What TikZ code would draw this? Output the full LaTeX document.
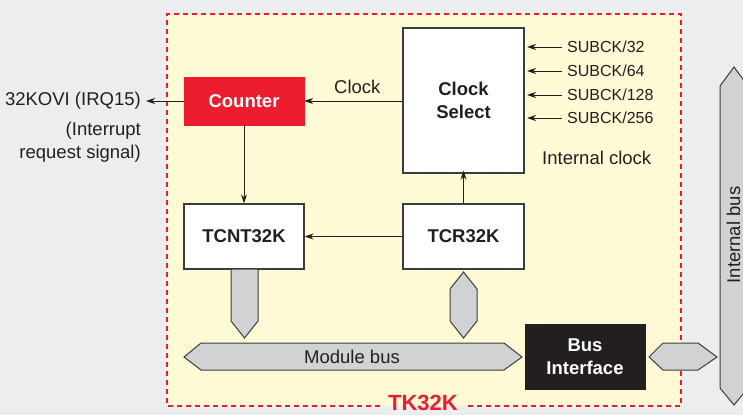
\documentclass[tikz,border=0pt]{standalone}
\usepackage{fontspec}
\setmainfont{Liberation Sans}
\usetikzlibrary{arrows.meta}
\definecolor{bgc}{RGB}{236,237,239}
\definecolor{yel}{RGB}{255,250,214}
\definecolor{redc}{RGB}{237,28,46}
\definecolor{ink}{RGB}{35,31,32}
\definecolor{edge}{RGB}{60,60,60}
\definecolor{busc}{RGB}{209,210,212}
\tikzset{
  every node/.style={text=ink, font=\fontsize{18.5}{22.5}\selectfont, inner sep=0pt},
  blockbox/.style={draw=edge, line width=1.2pt, fill=white, font=\fontsize{18.5}{23}\selectfont\bfseries, align=center},
  sig/.style={draw=ink, line width=0.9pt, -{Stealth[length=9pt,width=6pt]}},
  busshape/.style={draw=edge, line width=1pt, fill=busc},
  subck/.style={font=\fontsize{16}{19}\selectfont, anchor=west}
}
\begin{document}
\begin{tikzpicture}[x=1pt,y=-1pt]
\useasboundingbox (0,0) rectangle (743,415);
\fill[bgc] (0,0) rectangle (743,415);
% TK32K block area
\fill[yel] (167,14) rectangle (681,406);
\draw[redc, line width=1.1pt, dash pattern=on 5pt off 4pt] (380,406) -- (167,406) -- (167,14) -- (681,14) -- (681,406) -- (467,406);
\node[text=redc, font=\fontsize{22}{26}\selectfont\bfseries] (tk) at (423,403) {TK32K};

% boxes
\node[draw=redc, fill=redc, minimum width=120pt, minimum height=48pt, font=\fontsize{18.5}{23}\selectfont\bfseries, text=white] (counter) at (244,101) {Counter};
\node[blockbox, minimum width=121pt, minimum height=145pt] (cs) at (463.5,100.5) {Clock\\Select};
\node[blockbox, minimum width=120pt, minimum height=65pt] (tcnt) at (244,236.5) {TCNT32K};
\node[blockbox, minimum width=121pt, minimum height=65pt] (tcr) at (463.5,236.5) {TCR32K};
\node[fill=ink, draw=ink, minimum width=120pt, minimum height=65pt, font=\fontsize{18.5}{22.5}\selectfont\bfseries, text=white, align=center] (bi) at (585,356.5) {Bus\\Interface};

% left labels
\coordinate (irq) at (146,101);
\node[anchor=east] (kovi) at (141,101) {32KOVI (IRQ15)};
\node[anchor=north east, align=right] (irqtxt) at (141,122) {(Interrupt\\request signal)};

% signals
\draw[sig] (counter.west) -- (irq);
\draw[sig] (cs.west |- counter) -- node[above=7pt, xshift=4pt] (clk) {Clock} (counter.east);
\draw[sig] (counter.south) -- (tcnt.north);
\draw[sig] (tcr.north) -- ([yshift=3pt]cs.south);
\draw[sig] (tcr.west) -- (tcnt.east);

% SUBCK inputs
\foreach \yy/\lab/\nm in {47/32/a, 71/64/b, 95/128/c, 118/256/d}{
  \coordinate (s\nm) at (562,\yy);
  \node[subck] (t\nm) at (567,\yy) {SUBCK/\lab};
  \draw[sig] (s\nm) -- (527,\yy);
}
\node[anchor=west] (intclk) at (542,158) {Internal clock};

% buses
\draw[busshape] (231,269) -- (258,269) -- (258,321) -- (244.5,338) -- (231,321) -- cycle;
\draw[busshape] (463.5,272) -- (477,289) -- (477,321) -- (463.5,338) -- (450,321) -- (450,289) -- cycle;
\draw[busshape] (184,357) -- (201,343) -- (504,343) -- (522,357) -- (504,370) -- (201,370) -- cycle;
\node (mbus) at (352,357) {Module bus};
\draw[busshape] (649,357) -- (663,343) -- (698,343) -- (717,357) -- (698,370) -- (663,370) -- cycle;
\draw[busshape] (734,67) -- (748,86) -- (748,388) -- (734,405) -- (720,388) -- (720,86) -- cycle;
\node[rotate=90] (ibus) at (733.5,235) {Internal bus};
\end{tikzpicture}
\end{document}
